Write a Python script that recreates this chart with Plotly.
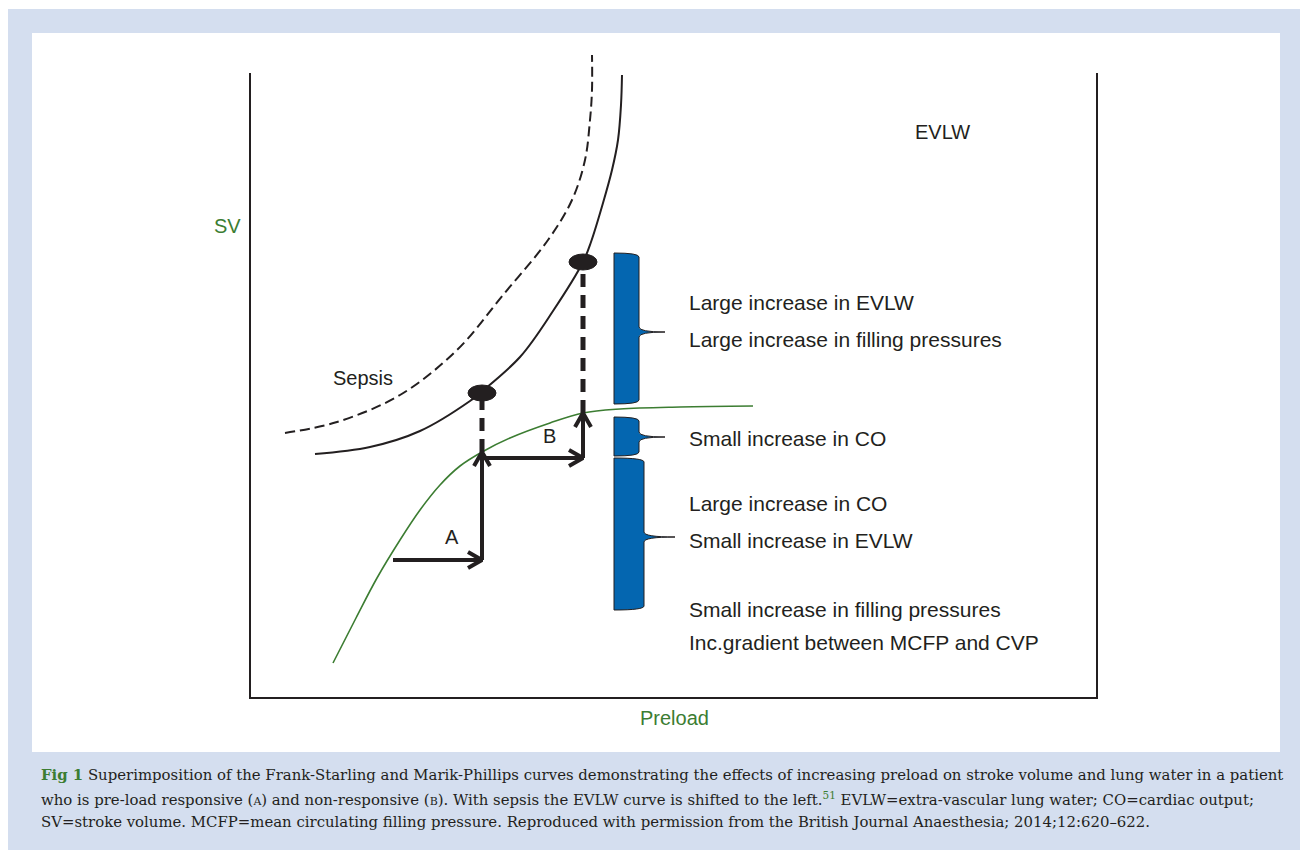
import plotly.graph_objects as go

# ---------------- data (arbitrary units: preload, stroke volume / EVLW) ----------------
fs_preload = [83, 106, 127, 150, 170, 190, 210, 232, 260, 300, 333, 370, 430, 503]
fs_sv      = [35, 80, 120, 158, 188, 213, 232, 246, 260, 275, 285, 289, 291, 292]

evlw_preload = [65, 120, 170, 220, 230, 270, 303, 333, 341, 353, 362, 368, 371, 372]
evlw_value   = [244, 251, 267, 297, 305, 341, 387, 436, 456, 495, 528, 558, 593, 623]

sepsis_preload = [35, 87, 150, 207, 253, 298, 322, 335, 340, 342, 342]
sepsis_value   = [265, 276, 303, 348, 403, 458, 498, 538, 578, 608, 643]

# operating points: preload steps A and B
step_preload = [143, 232, 333]          # start of A, end of A / start of B, end of B
step_sv_low = [138, 240]                # level of the horizontal arrows A and B
step_sv_high = [246, 285]               # SV reached on the Frank-Starling curve
evlw_points = [305, 436]                # EVLW reached on the Marik-Phillips curve

# braces: (top, bottom, middle) in SV units
brace_ranges = [(445, 294, 366), (281, 242, 261), (240, 88, 161)]
brace_labels = [
    ["Large increase in EVLW", "Large increase in filling pressures"],
    ["Small increase in CO"],
    ["Large increase in CO", "Small increase in EVLW", "Small increase in filling pressures",
     "Inc.gradient between MCFP and CVP"],
]

# ---------------- layout helpers ----------------
W, H = 1300, 854
X0, X1, Y0, Y1 = 250, 1097, 40, 698          # plot area in page pixels
L, R, T, B = X0, W - X1, Y0, H - Y1
PW, PH = X1 - X0, Y1 - Y0


def px(xp):  # page pixel -> paper x
    return (xp - X0) / PW


def py(yp):  # page pixel -> paper y
    return (Y1 - yp) / PH


DARK = "#231f20"
GREEN = "#3c7d32"
BLUE = "#0466b0"
BG = "#d4deef"
FONT = "Liberation Sans, Arial, sans-serif"

fig = go.Figure()

# curves
fig.add_trace(go.Scatter(x=sepsis_preload, y=sepsis_value, mode="lines", line_shape="spline",
                         line=dict(color=DARK, width=2, dash="10px,5px"), hoverinfo="skip"))
fig.add_trace(go.Scatter(x=evlw_preload, y=evlw_value, mode="lines", line_shape="spline",
                         line=dict(color=DARK, width=2), hoverinfo="skip"))
fig.add_trace(go.Scatter(x=fs_preload, y=fs_sv, mode="lines", line_shape="spline",
                         line=dict(color=GREEN, width=1.6), hoverinfo="skip"))

# thick dashed verticals from SV curve up to EVLW curve
for xv, y0, y1 in [(step_preload[1], step_sv_high[0], evlw_points[0]),
                   (step_preload[2], step_sv_high[1], evlw_points[1])]:
    fig.add_trace(go.Scatter(x=[xv, xv], y=[y0, y1], mode="lines",
                             line=dict(color=DARK, width=5, dash="13px,8px"), hoverinfo="skip"))


def arrow(x0, y0, x1, y1):
    fig.add_trace(go.Scatter(x=[x0, x1], y=[y0, y1], mode="lines",
                             line=dict(color=DARK, width=4), hoverinfo="skip"))
    if y0 == y1:  # horizontal, pointing right
        hx, hy = [x1 - 14, x1, x1 - 14], [y1 + 8, y1, y1 - 8]
    else:  # vertical, pointing up
        hx, hy = [x1 - 8, x1, x1 + 8], [y1 - 14, y1, y1 - 14]
    fig.add_trace(go.Scatter(x=hx, y=hy, mode="lines",
                             line=dict(color=DARK, width=4), hoverinfo="skip"))


arrow(step_preload[0], step_sv_low[0], step_preload[1], step_sv_low[0])
arrow(step_preload[1], step_sv_low[0], step_preload[1], step_sv_high[0])
arrow(step_preload[1], step_sv_low[1], step_preload[2], step_sv_low[1])
arrow(step_preload[2], step_sv_low[1], step_preload[2], step_sv_high[1])

shapes = []
# page background and white panel
shapes.append(dict(type="rect", xref="paper", yref="paper", x0=px(8), x1=px(1300), y0=py(850), y1=py(9),
                   fillcolor=BG, line=dict(width=0), layer="below"))
shapes.append(dict(type="rect", xref="paper", yref="paper", x0=px(32), x1=px(1280), y0=py(752), y1=py(33),
                   fillcolor="white", line=dict(width=0), layer="below"))
# frame: left, bottom, right
for x0, y0, x1, y1 in [(250, 73, 250, 698), (249, 698, 1098, 698), (1097, 73, 1097, 698)]:
    shapes.append(dict(type="line", xref="paper", yref="paper", x0=px(x0), y0=py(y0), x1=px(x1), y1=py(y1),
                       line=dict(color=DARK, width=2)))

# ellipses at operating points on the EVLW curve
for xc, yc in zip(step_preload[1:], evlw_points):
    shapes.append(dict(type="circle", xref="x", yref="y", x0=xc - 14, x1=xc + 14, y0=yc - 8, y1=yc + 8,
                       fillcolor=DARK, line=dict(color=DARK, width=1)))

# braces
brace_x = 364
for i, (yt, yb, ym) in enumerate(brace_ranges):
    w = 25 if i < 2 else 30
    tip = 26 if i < 2 else 31
    xl, xr, xt = brace_x, brace_x + w, brace_x + w + tip
    c, d = 4, 5
    path = (f"M {xl},{yt} Q {xr},{yt} {xr},{yt - c} L {xr},{ym + d} Q {xr},{ym} {xt},{ym} "
            f"Q {xr},{ym} {xr},{ym - d} L {xr},{yb + c} Q {xr},{yb} {xl},{yb} Z")
    shapes.append(dict(type="path", xref="x", yref="y", path=path, fillcolor=BLUE,
                       line=dict(color=DARK, width=1)))

annotations = []


def text(t, xp, yp, size=21, color=DARK, xanchor="center", family=FONT):
    annotations.append(dict(text=t, x=px(xp), y=py(yp), xref="paper", yref="paper", showarrow=False,
                            xanchor=xanchor, yanchor="middle", font=dict(size=size, color=color, family=family)))


text("EVLW", 942, 132, size=20)
text("SV", 227, 226, color=GREEN, size=20)
text("Preload", 674, 718, color=GREEN, size=20)
text("Sepsis", 363, 378, size=20)
text("A", 452, 537, size=20)
text("B", 549, 436, size=20)

label_y = [[302, 339], [438], [503, 540, 609, 642]]
for labels, ys in zip(brace_labels, label_y):
    for t, yy in zip(labels, ys):
        text(t, 687, yy, xanchor="left")

# caption
CAP = "DejaVu Serif, serif"
sc = lambda s: f"<span style='font-size:11px'>{s}</span>"
cap_lines = [
    f"<span style='color:{GREEN}'><b>Fig 1</b></span> Superimposition of the Frank-Starling and Marik-Phillips curves demonstrating the effects of increasing preload on stroke volume and lung water in a patient",
    f"who is pre-load responsive ({sc('A')}) and non-responsive ({sc('B')}). With sepsis the EVLW curve is shifted to the left.<span style='color:{GREEN}'><sup>51</sup></span> EVLW=extra-vascular lung water; CO=cardiac output;",
    "SV=stroke volume. MCFP=mean circulating filling pressure. Reproduced with permission from the British Journal Anaesthesia; 2014;12:620\u2013622.",
]
for t, yy in zip(cap_lines, [775, 799, 822]):
    text(t, 39, yy, size=14.9, color=DARK, xanchor="left", family=CAP)

fig.update_layout(
    width=W, height=H, autosize=False,
    margin=dict(l=L, r=R, t=T, b=B, pad=0),
    paper_bgcolor="white", plot_bgcolor="rgba(0,0,0,0)",
    showlegend=False,
    xaxis=dict(range=[0, PW], visible=False, fixedrange=True),
    yaxis=dict(range=[0, PH], visible=False, fixedrange=True),
    shapes=shapes, annotations=annotations,
)

fig.write_html("out.html", config={"displayModeBar": False},
               post_script="document.body.style.margin='0';document.body.style.overflow='hidden';")
